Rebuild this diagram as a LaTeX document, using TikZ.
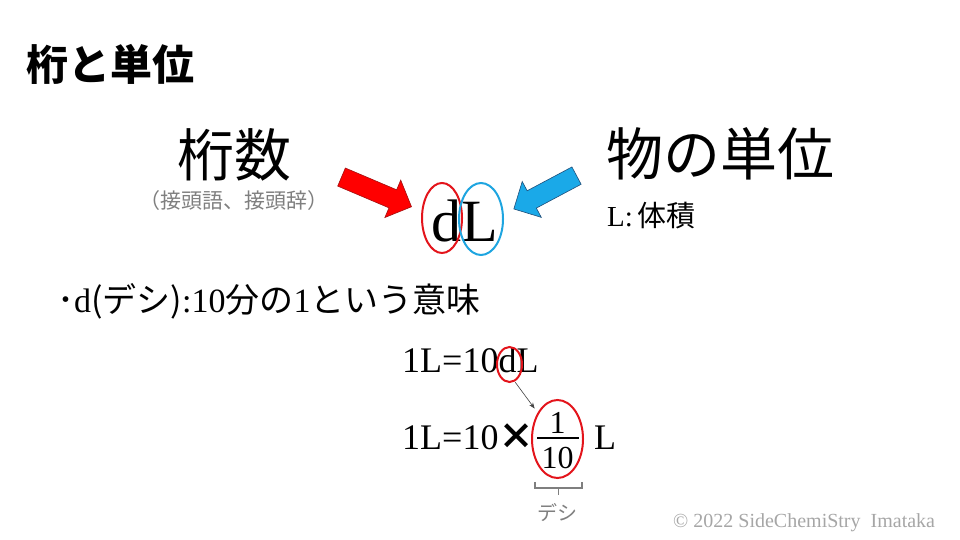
\documentclass[tikz,border=0pt]{standalone}
\usepackage{fontspec}
\setmainfont{Liberation Serif}
\newfontfamily\jp{Noto Sans CJK JP}
\usepackage{xcolor}
\usepackage{tikz}
\usetikzlibrary{shapes.geometric,shapes.arrows,arrows.meta}
\definecolor{ink}{HTML}{000000}
\definecolor{grey}{HTML}{7F7F7F}
\definecolor{faint}{HTML}{A6A6A6}
\definecolor{ringred}{HTML}{E3141B}
\definecolor{ringblue}{HTML}{1EA5E0}
\definecolor{arrowred}{HTML}{FF0000}
\definecolor{arrowredline}{HTML}{A01010}
\definecolor{arrowblue}{HTML}{1AA9E8}
\definecolor{arrowblueline}{HTML}{1F4E79}
\definecolor{pointerink}{HTML}{404040}
\tikzset{
  txt/.style={inner sep=0pt, text=ink},
  heading/.style={txt, font=\jp\bfseries\fontsize{42}{46}\selectfont},
  big/.style={txt, font=\jp\fontsize{57}{60}\selectfont},
  note/.style={txt, text=grey, font=\jp\fontsize{21}{24}\selectfont},
  body/.style={txt, font=\fontsize{34}{36}\selectfont},
  eqn/.style={txt, font=\fontsize{36}{40}\selectfont},
  fracnum/.style={txt, font=\fontsize{32}{36}\selectfont},
  ring/.style={ellipse, draw, line width=2pt, inner sep=0pt},
  fat/.style={single arrow, minimum height=#1, inner sep=9.5pt,
    single arrow head extend=10.5pt, line width=0.6pt},
  pointer/.style={draw=pointerink, line width=0.6pt, -{Stealth[length=6pt,width=4.5pt]}},
  bracket/.style={draw=grey, line width=1.2pt}
}

\begin{document}
\begin{tikzpicture}[x=1pt, y=1pt]
  \useasboundingbox (0,0) rectangle (960,540);
  % headings
  \node[heading] (title) at (110,476) {桁と単位};
  \node[big] (keta) at (234,385) {桁数};
  \node[note] (prefix) at (234,339) {（接頭語、接頭辞）};
  \node[big] (unit) at (720,386) {物の単位};
  \node[txt, font=\fontsize{29}{32}\selectfont, anchor=base west] (vol) at (607,313) {L:\,{\jp 体積}};
  % dL with rings and fat arrows
  \node[txt, font=\fontsize{60}{64}\selectfont, anchor=base] (dl) at (465,298) {dL};
  \node[ring, draw=ringred, minimum width=40, minimum height=70] (ringd) at (442,322) {};
  \node[ring, draw=ringblue, minimum width=44, minimum height=72] (ringl) at (481,321) {};
  \node[fat=76, fill=arrowred, draw=arrowredline, rotate=-23] (redarrow) at (372,350) {};
  \node[fat=71, fill=arrowblue, draw=arrowblueline, rotate=208] (bluearrow) at (549.5,350) {};
  % meaning of d
  \node[body, anchor=base west] (mean) at (57,227)
    {{\jp ･}d{\jp (デシ)}:10{\jp 分の}1{\jp という意味}};
  % 1L = 10 dL
  \node[eqn, anchor=base west] (eqa) at (402,167) {1L=10dL};
  \node[ring, draw=ringred, minimum width=25, minimum height=35] (ringsmall) at (509.5,175.5) {};
  % 1L = 10 x 1/10 L
  \node[eqn, anchor=base west] (eqb) at (402,90) {1L=10{\jp\bfseries ×}};
  \node[fracnum, anchor=base] (num) at (557.5,106) {1};
  \node[fracnum, anchor=base] (den) at (557.5,71) {10};
  \coordinate (barL) at (537,102);
  \coordinate (barR) at (579,102);
  \draw[line width=1.3pt] (barL) -- (barR);
  \node[eqn, anchor=base west] (lit) at (594,90) {L};
  \node[ring, draw=ringred, minimum width=51, minimum height=78] (ringfrac) at (557.5,101) {};
  \draw[pointer, shorten <=1pt, shorten >=5pt] (ringsmall.-73) -- (ringfrac.127);
  % bracket under the fraction
  \coordinate (brA) at (535,58);
  \coordinate (brB) at (582,58);
  \coordinate (brM) at (558.5,52);
  \draw[bracket] (brA) -- (brA |- brM) -- (brB |- brM) -- (brB);
  \draw[bracket] (brM) -- ++(0,-7);
  \node[note, font=\jp\fontsize{20}{24}\selectfont] (deci) at (557,27) {デシ};
  % credit
  \node[txt, text=faint, font=\fontsize{20}{24}\selectfont, anchor=base west] (credit) at (673,12)
    {© 2022 SideChemiStry\ \ Imataka};
\end{tikzpicture}
\end{document}
